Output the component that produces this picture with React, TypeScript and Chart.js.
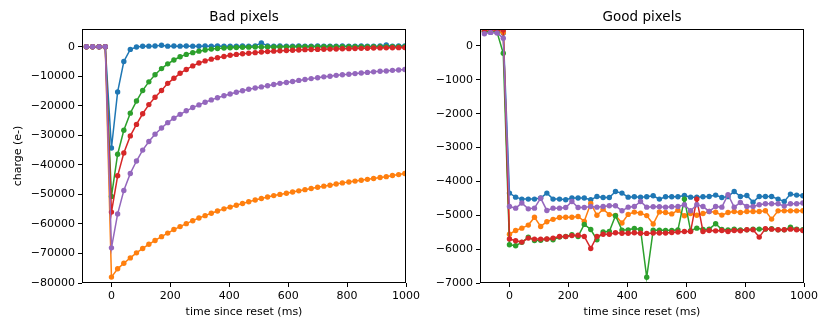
import React, { useEffect, useRef } from "react";
import { Chart, registerables } from "chart.js";

Chart.register(...registerables);

// ---- data ----
const timesMs = [-85, -64, -42, -21, 0, 21, 42, 64, 85, 106, 127, 148, 170, 191, 212, 233, 254, 276, 297, 318, 339, 360, 382, 403, 424, 445, 466, 488, 509, 530, 551, 572, 594, 615, 636, 657, 678, 700, 721, 742, 763, 784, 806, 827, 848, 869, 890, 912, 933, 954, 975, 996];

const badBlue = [0, 0, 0, 0, -34300, -15300, -5000, -900, -100, 150, 200, 250, 500, 200, 250, 200, 250, 200, 150, 250, 200, 250, 200, 150, 200, 250, 200, 300, 1300, 300, 200, 250, 200, 150, 250, 200, 200, 250, 200, 150, 200, 250, 200, 200, 300, 200, 150, 250, 600, 200, 300, 250];
const badOrange = [0, 0, 0, 0, -78000, -75200, -73300, -71500, -69800, -68300, -66900, -65600, -64300, -63100, -61900, -60900, -59900, -58900, -58000, -57200, -56400, -55600, -54900, -54300, -53700, -53100, -52500, -51900, -51400, -50900, -50400, -50000, -49600, -49200, -48800, -48400, -48000, -47600, -47200, -46900, -46500, -46100, -45800, -45500, -45200, -44900, -44600, -44300, -44000, -43600, -43300, -42900];
const badGreen = [0, 0, 0, 0, -50700, -36400, -28300, -22500, -18400, -14800, -11900, -9500, -7400, -5800, -4500, -3400, -2600, -2000, -1500, -1100, -800, -600, -450, -350, -250, -200, -150, -100, -100, -80, -60, -50, -50, -40, -30, -30, -20, -20, -10, 0, 0, 0, 0, 0, 0, 0, 0, 0, 0, 0, 0, 0];
const badRed = [0, 0, 0, 0, -56000, -43700, -36000, -30200, -26300, -22700, -19600, -17100, -14800, -12400, -10700, -9000, -7700, -6500, -5500, -4800, -4200, -3700, -3300, -2900, -2600, -2400, -2200, -2000, -1800, -1650, -1500, -1400, -1300, -1200, -1100, -1000, -950, -900, -850, -800, -750, -700, -650, -600, -550, -500, -450, -400, -380, -350, -320, -300];
const badPurple = [0, 0, 0, 0, -68100, -56600, -48700, -42900, -38700, -35000, -32100, -29600, -27500, -25700, -24200, -22900, -21700, -20600, -19700, -18800, -18000, -17300, -16600, -16000, -15400, -14900, -14400, -14000, -13600, -13200, -12800, -12400, -12100, -11800, -11400, -11100, -10800, -10500, -10200, -10000, -9700, -9500, -9300, -9100, -8900, -8700, -8500, -8300, -8200, -8000, -7900, -7700];

const goodBlue = [420, 400, 430, 380, -4346, -4465, -4523, -4523, -4523, -4490, -4346, -4523, -4523, -4543, -4490, -4490, -4490, -4543, -4445, -4475, -4475, -4298, -4346, -4465, -4455, -4465, -4455, -4425, -4523, -4455, -4455, -4455, -4415, -4465, -4465, -4455, -4445, -4405, -4475, -4450, -4298, -4445, -4415, -4612, -4445, -4445, -4445, -4523, -4592, -4375, -4405, -4425];
const goodOrange = [430, 410, 420, 400, -5560, -5450, -5380, -5290, -5060, -5330, -5190, -5120, -5065, -5060, -5060, -5035, -5180, -4650, -5000, -4820, -4980, -5005, -5230, -4975, -4907, -4937, -5010, -5260, -4900, -4920, -4960, -4850, -5015, -4950, -5000, -4950, -4890, -4910, -4995, -4920, -4890, -4920, -4890, -4890, -4890, -4868, -5113, -4870, -4870, -4870, -4870, -4868];
const goodGreen = [440, 420, 400, -215, -5870, -5900, -5800, -5644, -5743, -5740, -5704, -5723, -5644, -5625, -5575, -5625, -5270, -5420, -5723, -5490, -5480, -5015, -5438, -5430, -5390, -5420, -6830, -5440, -5440, -5445, -5450, -5430, -4523, -5458, -5380, -5420, -5410, -5251, -5420, -5430, -5410, -5430, -5430, -5410, -5408, -5410, -5400, -5430, -5430, -5349, -5410, -5428];
const goodRed = [480, 470, 480, 470, -5700, -5753, -5792, -5674, -5704, -5704, -5700, -5674, -5625, -5630, -5600, -5590, -5625, -5980, -5625, -5560, -5560, -5515, -5530, -5530, -5515, -5530, -5535, -5525, -5525, -5527, -5510, -5497, -5478, -5480, -4523, -5478, -5448, -5460, -5448, -5478, -5448, -5460, -5428, -5428, -5644, -5398, -5410, -5428, -5428, -5410, -5428, -5448];
const goodPurple = [360, 400, 380, 230, -4740, -4790, -4640, -4810, -4790, -4493, -4858, -4790, -4790, -4770, -4593, -4770, -4770, -4740, -4760, -4740, -4720, -4720, -4868, -4760, -4740, -4593, -4760, -4750, -4750, -4760, -4750, -4740, -4690, -4868, -4690, -4740, -4887, -4740, -4760, -4395, -4760, -4622, -4740, -4740, -4690, -4660, -4660, -4660, -4730, -4660, -4660, -4640];

const xTicks = [0, 200, 400, 600, 800, 1000];
const badYTicks = [0, -10000, -20000, -30000, -40000, -50000, -60000, -70000, -80000];
const goodYTicks = [0, -1000, -2000, -3000, -4000, -5000, -6000, -7000];

const seriesColors = ["#1f77b4", "#ff7f0e", "#2ca02c", "#d62728", "#9467bd"];

// ---- chart helpers ----
const FONT = "'DejaVu Sans', sans-serif";

const fmt = (v: number) => (v < 0 ? "\u2212" + Math.abs(v) : String(v));

const framePlugin = {
  id: "frame",
  afterDatasetsDraw(chart: any) {
    const { ctx, chartArea } = chart;
    ctx.save();
    ctx.strokeStyle = "#000";
    ctx.lineWidth = 1;
    const l = Math.round(chartArea.left) + 0.5;
    const t = Math.round(chartArea.top) + 0.5;
    const r = Math.round(chartArea.right) - 0.5;
    const b = Math.round(chartArea.bottom) - 0.5;
    ctx.strokeRect(l, t, r - l, b - t);
    ctx.restore();
  },
};

function makeConfig(opts: {
  title: string;
  series: number[][];
  yMin: number;
  yMax: number;
  yTicks: number[];
  yLabel?: string;
  yWidth: number;
  padRight: number;
}) {
  const datasets = opts.series.map((vals, i) => ({
    data: timesMs.map((t, j) => ({ x: t, y: vals[j] })),
    borderColor: seriesColors[i],
    backgroundColor: seriesColors[i],
    pointBackgroundColor: seriesColors[i],
    pointBorderWidth: 0,
    pointRadius: 2.7,
    borderWidth: 1.5,
    tension: 0,
    order: 10 - i,
  }));
  return {
    type: "line" as const,
    data: { datasets },
    plugins: [framePlugin],
    options: {
      animation: false,
      responsive: false,
      events: [],
      layout: { padding: { left: 0, right: opts.padRight, top: 0, bottom: 0 } },
      plugins: {
        legend: { display: false },
        tooltip: { enabled: false },
        title: {
          display: true,
          text: opts.title,
          fullSize: false,
          color: "#000",
          font: { family: FONT, size: 13.5, weight: "normal", lineHeight: 1.2 },
          padding: { top: 9, bottom: 3.8 },
        },
      },
      scales: {
        x: {
          type: "linear",
          min: -100,
          max: 1000,
          afterBuildTicks: (s: any) => {
            s.ticks = xTicks.map((v) => ({ value: v }));
          },
          afterFit: (s: any) => {
            s.height = 49;
            s.paddingLeft = 0;
            s.paddingRight = 0;
          },
          border: { display: false },
          grid: {
            display: true,
            drawOnChartArea: false,
            drawTicks: true,
            tickLength: 4,
            tickColor: "#000",
            tickWidth: 1,
          },
          ticks: {
            color: "#000",
            padding: 3,
            maxRotation: 0,
            autoSkip: false,
            font: { family: FONT, size: 11 },
            callback: (v: any) => fmt(Number(v)),
          },
          title: {
            display: true,
            text: "time since reset (ms)",
            color: "#000",
            font: { family: FONT, size: 11 },
            padding: { top: 13.5, bottom: 13.5 },
          },
        },
        y: {
          type: "linear",
          min: opts.yMin,
          max: opts.yMax,
          afterBuildTicks: (s: any) => {
            s.ticks = opts.yTicks.map((v) => ({ value: v }));
          },
          afterFit: (s: any) => {
            s.width = opts.yWidth;
            s.paddingTop = 0;
            s.paddingBottom = 0;
          },
          border: { display: false },
          grid: {
            display: true,
            drawOnChartArea: false,
            drawTicks: true,
            tickLength: 4,
            tickColor: "#000",
            tickWidth: 1,
          },
          ticks: {
            color: "#000",
            padding: 3,
            autoSkip: false,
            font: { family: FONT, size: 11 },
            callback: (v: any) => fmt(Number(v)),
          },
          title: {
            display: !!opts.yLabel,
            text: opts.yLabel || "",
            color: "#000",
            font: { family: FONT, size: 11 },
            padding: { top: 11.5, bottom: 11.5 },
          },
        },
      },
    },
  };
}

function ChartCanvas(props: { config: any; left: number; width: number }) {
  const ref = useRef<HTMLCanvasElement | null>(null);
  useEffect(() => {
    if (!ref.current) return;
    const chart = new Chart(ref.current, props.config);
    return () => chart.destroy();
  }, []);
  return (
    <canvas
      ref={ref}
      width={props.width}
      height={332}
      style={{ position: "absolute", left: props.left, top: 0, width: props.width, height: 332 }}
    />
  );
}

export default function App() {
  const badCfg = makeConfig({
    title: "Bad pixels",
    series: [badBlue, badOrange, badGreen, badRed, badPurple],
    yMin: -80000,
    yMax: 6000,
    yTicks: badYTicks,
    yLabel: "charge (e-)",
    yWidth: 82,
    padRight: 24,
  });
  const goodCfg = makeConfig({
    title: "Good pixels",
    series: [goodBlue, goodOrange, goodGreen, goodRed, goodPurple],
    yMin: -7000,
    yMax: 500,
    yTicks: goodYTicks,
    yWidth: 60,
    padRight: 26,
  });
  return (
    <div style={{ position: "absolute", left: 0, top: 0, width: 830, height: 332, background: "#fff" }}>
      <ChartCanvas config={badCfg} left={0} width={430} />
      <ChartCanvas config={goodCfg} left={420} width={410} />
    </div>
  );
}
